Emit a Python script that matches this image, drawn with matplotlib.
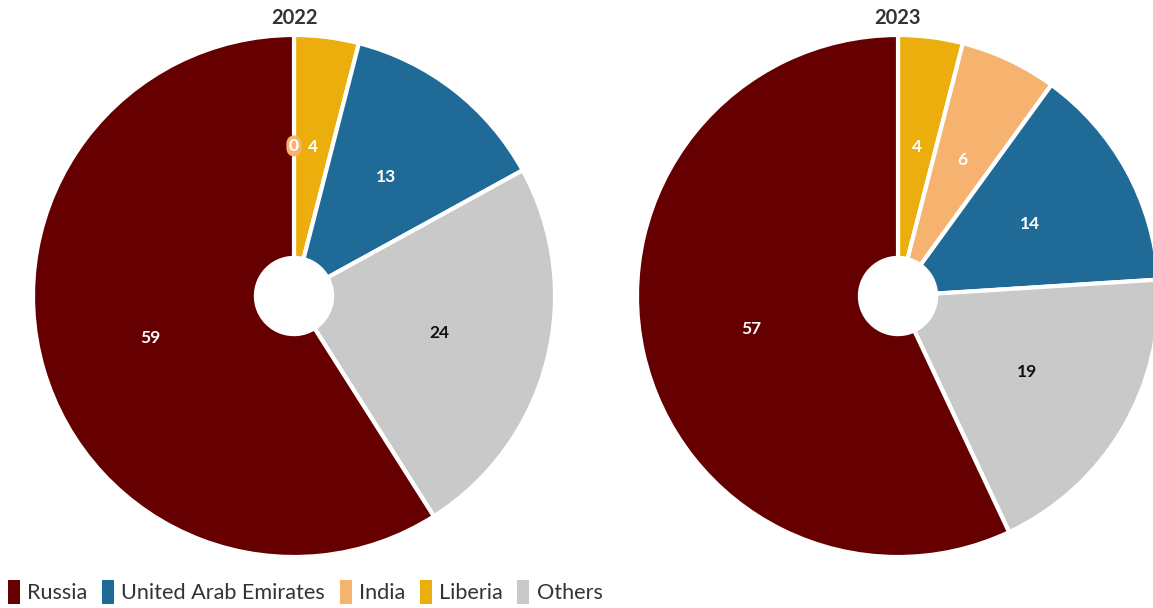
import matplotlib
matplotlib.use("Agg")
import matplotlib.pyplot as plt
from matplotlib.patches import Patch
import numpy as np

plt.rcParams['font.family'] = ['Lato', 'DejaVu Sans']

# clockwise order from 12 o'clock, per year
countries_2022 = ['India', 'Liberia', 'United Arab Emirates', 'Others', 'Russia']
values_2022 = [0, 4, 13, 24, 59]
countries_2023 = ['Liberia', 'India', 'United Arab Emirates', 'Others', 'Russia']
values_2023 = [4, 6, 14, 19, 57]

legend_order = ['Russia', 'United Arab Emirates', 'India', 'Liberia', 'Others']
colors = {
    'Russia': '#660000',
    'United Arab Emirates': '#1f6a96',
    'India': '#f6b26f',
    'Liberia': '#ebae0d',
    'Others': '#c9c9c9',
}
text_colors = {'Others': '#111111'}

W, H = 1153, 608
fig = plt.figure(figsize=(W / 100, H / 100), dpi=100)


def draw_pie(cx, cy, r, year, countries, values):
    ax = fig.add_axes([(cx - r) / W, (H - cy - r) / H, 2 * r / W, 2 * r / H])
    wedges, _ = ax.pie(values, colors=[colors[c] for c in countries],
                       startangle=90, counterclock=False, radius=1,
                       wedgeprops=dict(width=1 - 0.146, edgecolor='white', linewidth=3))
    ax.set_xlim(-1, 1)
    ax.set_ylim(-1, 1)
    ax.set_aspect('equal')
    ax.axis('off')
    for w, c, v in zip(wedges, countries, values):
        ang = np.deg2rad((w.theta1 + w.theta2) / 2)
        x, y = 0.575 * np.cos(ang), 0.575 * np.sin(ang)
        if v == 0:
            ax.text(x, y, str(v), ha='center', va='center', color='white',
                    fontsize=12.5, fontweight='bold',
                    bbox=dict(boxstyle='round,pad=0.15,rounding_size=0.5',
                              fc=colors[c], ec='none'))
        else:
            ax.text(x, y, str(v), ha='center', va='center',
                    color=text_colors.get(c, 'white'), fontsize=12.5, fontweight='bold')
    ax.text(0, 1.025, year, ha='center', va='bottom', fontsize=14.5,
            fontweight='bold', color='#333333', clip_on=False)


draw_pie(294, 296, 261, '2022', countries_2022, values_2022)
draw_pie(898, 296, 261, '2023', countries_2023, values_2023)

handles = [Patch(facecolor=colors[c], edgecolor='none', label=c) for c in legend_order]
fig.legend(handles=handles, loc='lower left', bbox_to_anchor=(-0.006, -0.018), ncol=5,
           frameon=False, fontsize=15.6, handlelength=0.55, handleheight=1.3,
           handletextpad=0.33, columnspacing=0.68, labelcolor='#333333',
           borderaxespad=0.3)

fig.savefig('out.png', dpi=100)
